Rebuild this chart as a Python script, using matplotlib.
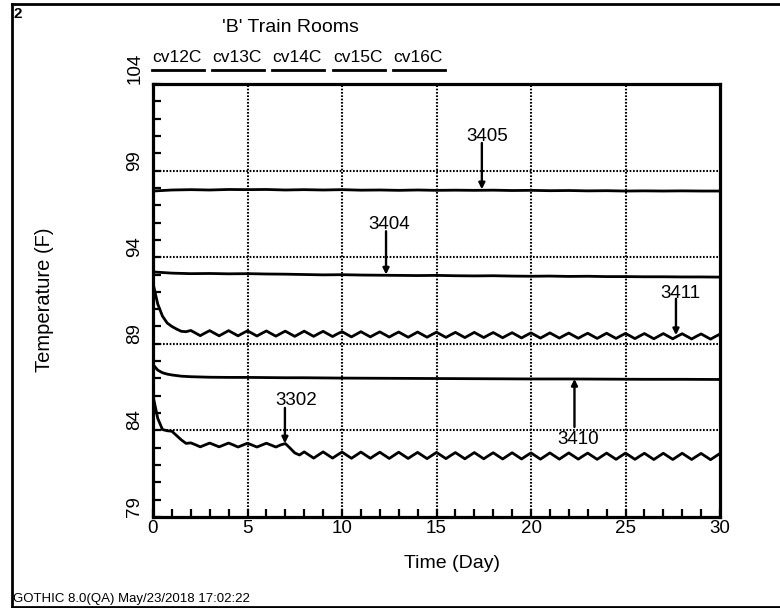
import matplotlib
matplotlib.use('Agg')
import matplotlib.pyplot as plt
import numpy as np
from matplotlib.lines import Line2D

plt.rcParams['font.family'] = ['Liberation Sans', 'DejaVu Sans']

# ---------------- data ----------------
title = "'B' Train Rooms"
legend_labels = ['cv12C', 'cv13C', 'cv14C', 'cv15C', 'cv16C']
x_ticks = [0, 5, 10, 15, 20, 25, 30]
y_ticks = [79, 84, 89, 94, 99, 104]

t_daily = list(range(0, 31))
v3405 = [97.82, 97.88, 97.90, 97.88, 97.91, 97.90, 97.91, 97.88, 97.90, 97.88,
         97.90, 97.87, 97.88, 97.86, 97.88, 97.86, 97.87, 97.86, 97.87, 97.85,
         97.86, 97.84, 97.85, 97.83, 97.84, 97.82, 97.83, 97.82, 97.83, 97.82, 97.82]
v3404 = [93.15, 93.08, 93.05, 93.06, 93.04, 93.05, 93.03, 93.02, 93.00, 92.98,
         92.99, 92.97, 92.96, 92.95, 92.94, 92.95, 92.93, 92.92, 92.93, 92.91,
         92.90, 92.91, 92.89, 92.90, 92.88, 92.88, 92.87, 92.87, 92.86, 92.86, 92.85]

t3410 = [0, 0.25, 0.5, 0.75, 1, 1.5, 2, 3, 4, 5, 6, 7, 8, 9, 10,
         12, 14, 16, 18, 20, 22, 24, 26, 28, 30]
v3410 = [87.8, 87.48, 87.33, 87.25, 87.2, 87.13, 87.1, 87.07, 87.06, 87.06,
         87.05, 87.04, 87.04, 87.03, 87.02, 87.01, 87.0, 86.99, 86.98, 86.97,
         86.97, 86.96, 86.95, 86.95, 86.94]

t_quarter = np.arange(0, 30.01, 0.25)
v3411 = [92.5, 91.3, 90.6, 90.2, 90.0, 89.85, 89.72, 89.70,
         89.77, 89.62, 89.47, 89.62,
         89.76, 89.61, 89.46, 89.61,
         89.76, 89.61, 89.46, 89.61,
         89.75, 89.60, 89.45, 89.60,
         89.74, 89.59, 89.44, 89.59,
         89.73, 89.58, 89.43, 89.58,
         89.73, 89.58, 89.43, 89.58,
         89.72, 89.57, 89.42, 89.57,
         89.70, 89.55, 89.40, 89.55,
         89.70, 89.55, 89.40, 89.55,
         89.69, 89.54, 89.39, 89.54,
         89.68, 89.53, 89.38, 89.53,
         89.68, 89.53, 89.38, 89.53,
         89.67, 89.52, 89.37, 89.52,
         89.66, 89.51, 89.36, 89.51,
         89.66, 89.51, 89.36, 89.51,
         89.65, 89.50, 89.35, 89.50,
         89.64, 89.49, 89.34, 89.49,
         89.63, 89.48, 89.33, 89.48,
         89.63, 89.48, 89.33, 89.48,
         89.62, 89.47, 89.32, 89.47,
         89.61, 89.46, 89.31, 89.46,
         89.61, 89.46, 89.31, 89.46,
         89.60, 89.45, 89.30, 89.45,
         89.59, 89.44, 89.29, 89.44,
         89.59, 89.44, 89.29, 89.44,
         89.58, 89.43, 89.28, 89.43,
         89.57, 89.42, 89.27, 89.42,
         89.56]
v3302 = [86.0, 84.7, 84.05, 83.98, 83.95, 83.7, 83.45, 83.25,
         83.28, 83.17, 83.05, 83.16,
         83.27, 83.16, 83.05, 83.16,
         83.27, 83.16, 83.04, 83.15,
         83.26, 83.15, 83.04, 83.15,
         83.26, 83.15, 83.04, 83.16,
         83.24, 82.98, 82.70, 82.58,
         82.76, 82.58, 82.40, 82.58,
         82.76, 82.58, 82.40, 82.58,
         82.75, 82.57, 82.39, 82.57,
         82.75, 82.57, 82.39, 82.57,
         82.74, 82.56, 82.38, 82.56,
         82.74, 82.56, 82.38, 82.56,
         82.73, 82.55, 82.37, 82.55,
         82.73, 82.55, 82.37, 82.55,
         82.72, 82.54, 82.36, 82.54,
         82.72, 82.54, 82.36, 82.54,
         82.71, 82.53, 82.35, 82.53,
         82.71, 82.53, 82.35, 82.53,
         82.70, 82.52, 82.34, 82.52,
         82.70, 82.52, 82.34, 82.52,
         82.70, 82.52, 82.34, 82.52,
         82.69, 82.51, 82.33, 82.51,
         82.69, 82.51, 82.33, 82.51,
         82.69, 82.51, 82.33, 82.51,
         82.68, 82.50, 82.32, 82.50,
         82.68, 82.50, 82.32, 82.50,
         82.68, 82.50, 82.32, 82.50,
         82.67, 82.49, 82.31, 82.49,
         82.67]

# annotations: label, arrow x (day), arrow tail y, arrow tip y, label x, label y
ann_labels = ['3405', '3404', '3411', '3410', '3302']
ann_arrow_x = [17.4, 12.33, 27.67, 22.3, 6.98]
ann_tail_y = [100.6, 95.5, 91.6, 84.2, 85.3]
ann_tip_y = [97.92, 93.0, 89.5, 86.97, 83.25]
ann_text_x = [17.7, 12.5, 27.9, 22.5, 7.6]
ann_text_y = [100.95, 95.86, 91.93, 83.45, 85.72]

# ---------------- figure ----------------
W, H = 780, 608
fig = plt.figure(figsize=(W / 100, H / 100), dpi=100)
fig.patch.set_facecolor('white')

def fx(px):
    return px / W

def fy(py):
    return 1 - py / H

ax = fig.add_axes([fx(153), fy(517), fx(720) - fx(153), fy(84) - fy(517)])
ax.set_xlim(0, 30)
ax.set_ylim(79, 104)

line_kw = dict(color='black', lw=2.0, zorder=3, solid_joinstyle='round',
               solid_capstyle='round')
ax.plot(t_daily, v3405, **line_kw)
ax.plot(t_daily, v3404, **line_kw)
ax.plot(t3410, v3410, **line_kw)
ax.plot(t_quarter, v3411, **line_kw)
ax.plot(t_quarter, v3302, **line_kw)

# grid (dotted)
for xv in x_ticks[1:-1]:
    ax.axvline(xv, color='black', lw=1.5, ls=(0, (0.8, 0.8)), zorder=1)
for yv in y_ticks[1:-1]:
    ax.axhline(yv, color='black', lw=1.5, ls=(0, (0.8, 0.8)), zorder=1)

for s in ax.spines.values():
    s.set_linewidth(2.3)
    s.set_color('black')

ax.set_xticks(x_ticks)
ax.set_xticklabels([str(v) for v in x_ticks])
ax.set_xticks(np.arange(0, 31, 1), minor=True)
ax.set_yticks(y_ticks)
ax.set_yticklabels([str(v) for v in y_ticks])
ax.set_yticks(np.arange(79, 105, 1), minor=True)
ax.tick_params(which='both', direction='in', length=6, width=1.6,
               top=False, right=False, labelsize=13.5)
ax.tick_params(axis='x', which='major', pad=2)
ax.tick_params(axis='y', which='major', pad=7)
for lab in ax.get_yticklabels():
    lab.set_rotation(90)
    lab.set_va('bottom')
    lab.set_ha('right')

# annotations
for lab, axx, ty0, ty1, tx, tyy in zip(ann_labels, ann_arrow_x, ann_tail_y,
                                        ann_tip_y, ann_text_x, ann_text_y):
    ax.annotate('', xy=(axx, ty1), xytext=(axx, ty0),
                arrowprops=dict(arrowstyle='-|>', color='black', lw=1.7,
                                mutation_scale=9, shrinkA=0, shrinkB=0),
                zorder=4)
    ax.text(tx, tyy, lab, fontsize=13.5, ha='center', va='center', zorder=5)

# axis labels
fig.text(fx(45), fy(300), 'Temperature (F)', rotation=90, ha='center',
         va='center', fontsize=14.5)
fig.text(fx(452), fy(564), 'Time (Day)', ha='center', va='center', fontsize=14)

# title and legend header
fig.text(fx(222), fy(27), title, ha='left', va='center', fontsize=14)
leg_x = [152, 212, 272, 333, 393]
for lx, lab in zip(leg_x, legend_labels):
    fig.text(fx(lx), fy(58), lab, ha='left', va='center', fontsize=12.5)
    fig.add_artist(Line2D([fx(lx), fx(lx + 52)], [fy(70), fy(70)],
                          color='black', lw=2.0, transform=fig.transFigure))

# page number and footer
fig.text(fx(13), fy(14), '2', ha='left', va='center', fontsize=11, fontweight='bold')
fig.text(fx(13), fy(599), 'GOTHIC 8.0(QA) May/23/2018 17:02:22', ha='left',
         va='center', fontsize=9.5)

# outer frame
frame_kw = dict(color='black', lw=2.0, transform=fig.transFigure)
fig.add_artist(Line2D([fx(11.5), fx(11.5)], [fy(4), fy(607)], **frame_kw))
fig.add_artist(Line2D([fx(11.5), fx(780)], [fy(4), fy(4)], **frame_kw))
fig.add_artist(Line2D([fx(11.5), fx(780)], [fy(607), fy(607)], **frame_kw))

fig.savefig('out.png', dpi=100)
